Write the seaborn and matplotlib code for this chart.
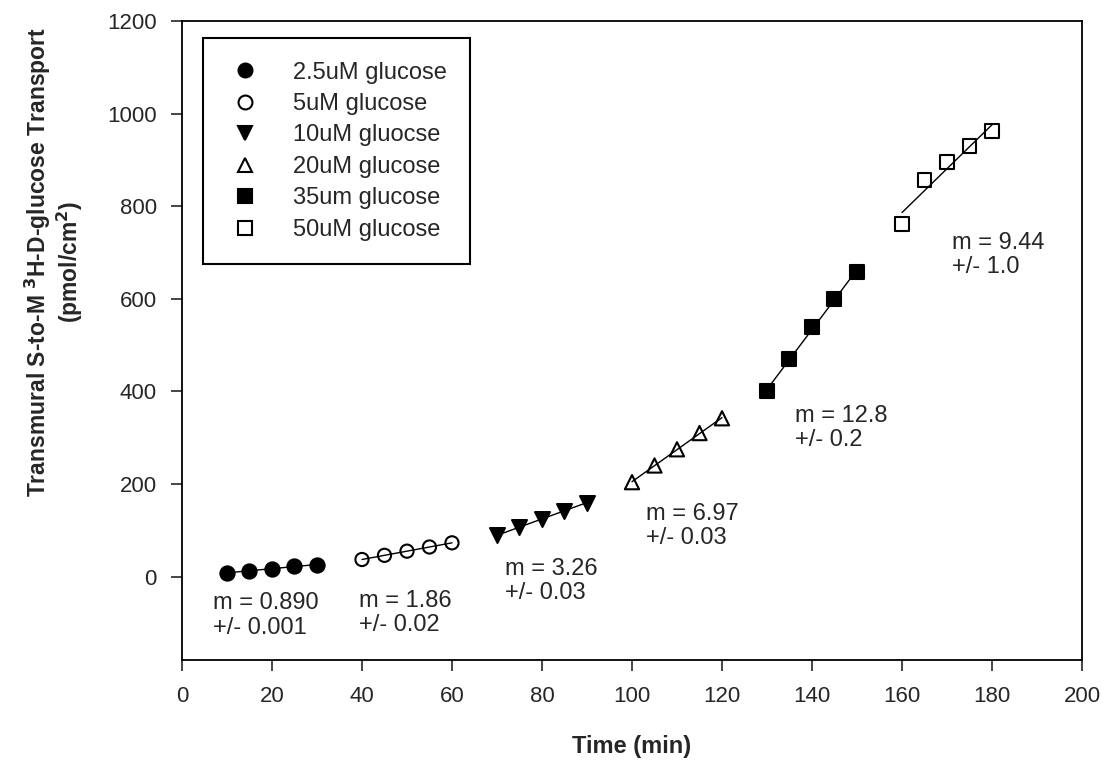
import numpy as np
import pandas as pd
import matplotlib
matplotlib.use("Agg")
import matplotlib.pyplot as plt
from matplotlib.lines import Line2D
import seaborn as sns

# Glucose concentration groups
groups = ["2.5uM glucose", "5uM glucose", "10uM gluocse",
          "20uM glucose", "35um glucose", "50uM glucose"]

# Sampling times (min) for each group
t_25 = [10, 15, 20, 25, 30]
t_5 = [40, 45, 50, 55, 60]
t_10 = [70, 75, 80, 85, 90]
t_20 = [100, 105, 110, 115, 120]
t_35 = [130, 135, 140, 145, 150]
t_50 = [160, 165, 170, 175, 180]

# Cumulative transport (pmol/cm^2)
y_25 = [8, 13, 17, 22, 26]
y_5 = [37, 46, 55, 64, 73]
y_10 = [89, 107, 125, 142, 160]
y_20 = [204, 240, 275, 310, 342]
y_35 = [400, 470, 540, 600, 658]
y_50 = [762, 856, 895, 930, 962]

# Slope annotations and their anchor points (top-left, data units)
slope_labels = ["m = 0.890\n+/- 0.001", "m = 1.86\n+/- 0.02", "m = 3.26\n+/- 0.03",
                "m = 6.97\n+/- 0.03", "m = 12.8\n+/- 0.2", "m = 9.44\n+/- 1.0"]
label_x = [6.9, 39.3, 71.8, 103.1, 136.2, 171.1]
label_y = [-34, -28, 41, 160, 371, 745]

times = [t_25, t_5, t_10, t_20, t_35, t_50]
values = [y_25, y_5, y_10, y_20, y_35, y_50]

df = pd.DataFrame({
    "group": np.repeat(groups, [len(t) for t in times]),
    "time": np.concatenate(times),
    "transport": np.concatenate(values),
})

sns.set_style("white")
plt.rcParams["font.family"] = ["Liberation Sans", "DejaVu Sans"]

markers = ["o", "o", "v", "^", "s", "s"]
filled = [True, False, True, False, True, False]
msizes = [105, 90, 115, 105, 100, 100]

fig = plt.figure(figsize=(11.11, 7.71), dpi=100)
ax = fig.add_axes([0.1638, 0.144, 0.8101, 0.8288])

for g, mk, fl, ms in zip(groups, markers, filled, msizes):
    sub = df[df["group"] == g]
    sns.regplot(data=sub, x="time", y="transport", ax=ax, ci=None,
                marker=mk,
                scatter_kws=dict(s=ms, facecolors="black" if fl else "none",
                                 edgecolors="black", linewidths=1.5, alpha=1,
                                 zorder=3),
                line_kws=dict(color="black", lw=1.0, zorder=2))

for txt, lx, ly in zip(slope_labels, label_x, label_y):
    ax.text(lx, ly, txt, fontsize=17, ha="left", va="top", linespacing=1.15)

ax.set_xlim(0, 200)
ax.set_ylim(-180, 1200)
ax.set_xticks(np.arange(0, 201, 20))
ax.set_yticks(np.arange(0, 1201, 200))
ax.tick_params(axis="both", direction="out", length=8, width=1.2,
               labelsize=16, bottom=True, left=True)
ax.tick_params(axis="x", pad=11)
ax.tick_params(axis="y", pad=10)
for sp in ax.spines.values():
    sp.set_visible(True)
    sp.set_color("black")
    sp.set_linewidth(1.3)

ax.set_xlabel("Time (min)", fontsize=17, fontweight="bold", labelpad=20)
ax.set_ylabel("")
fig.text(0.0486, 0.660,
         "Transmural S-to-M $\\mathbf{^{3}}$H-D-glucose Transport\n(pmol/cm$\\mathbf{^{2}}$)",
         rotation=90, ha="center", va="center", fontsize=16.5, fontweight="bold",
         multialignment="center", linespacing=1.1)

handles = [Line2D([], [], linestyle="none", marker=mk, markersize=10,
                  markerfacecolor="black" if fl else "none", markeredgecolor="black",
                  markeredgewidth=1.5)
           for mk, fl in zip(markers, filled)]
leg = ax.legend(handles, groups, loc="upper left", bbox_to_anchor=(0.0233, 0.9734),
                fontsize=17, frameon=True, fancybox=False, framealpha=1,
                borderpad=1.0, labelspacing=0.4, handletextpad=1.2,
                handlelength=1.6, borderaxespad=0)
leg.get_frame().set_edgecolor("black")
leg.get_frame().set_linewidth(1.5)

fig.savefig("out.png", dpi=100)
